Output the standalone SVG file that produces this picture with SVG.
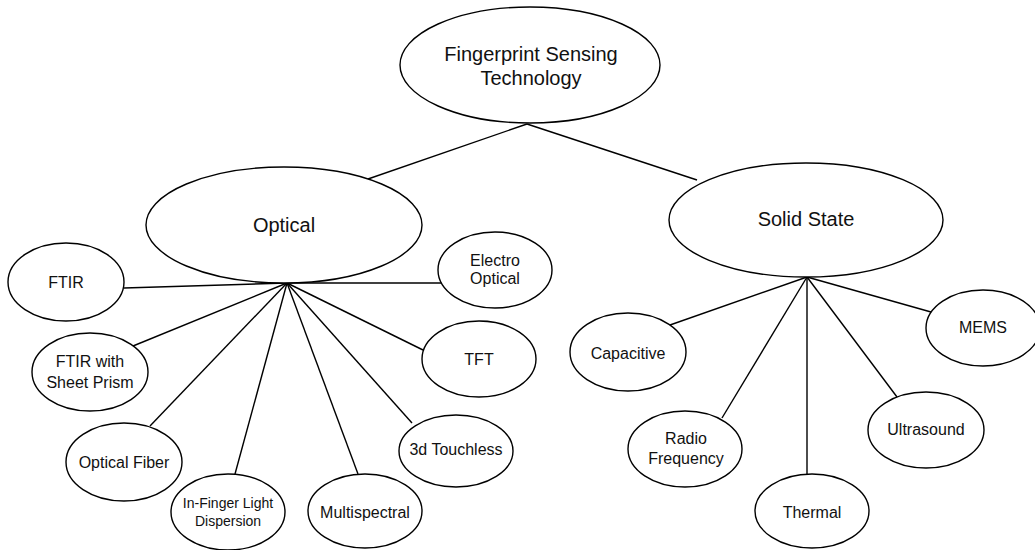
<svg xmlns="http://www.w3.org/2000/svg" width="1035" height="550" viewBox="0 0 1035 550">
<style>
.n ellipse{fill:#fff;stroke:#000;stroke-width:1.4}
.c line{stroke:#000;stroke-width:1.4}
text{font-family:"Liberation Sans",Arial,sans-serif;fill:#111;text-anchor:middle}
.big{font-size:20px}
.sm{font-size:16px}
.xs{font-size:14px}
</style>
<rect width="1035" height="550" fill="#fff"/>
<g id="connectors" class="c">
<line x1="527" y1="124" x2="368" y2="179"/>
<line x1="527" y1="124" x2="697" y2="180"/>
<line x1="287" y1="283" x2="124" y2="288"/>
<line x1="287" y1="283" x2="442" y2="283"/>
<line x1="287" y1="283" x2="133" y2="346"/>
<line x1="287" y1="283" x2="150" y2="426"/>
<line x1="287" y1="283" x2="235" y2="474"/>
<line x1="287" y1="283" x2="358" y2="474"/>
<line x1="287" y1="283" x2="412" y2="423"/>
<line x1="287" y1="283" x2="423" y2="350"/>
<line x1="807" y1="277" x2="670" y2="325"/>
<line x1="807" y1="277" x2="722" y2="418"/>
<line x1="807" y1="277" x2="807" y2="474"/>
<line x1="807" y1="277" x2="897" y2="397"/>
<line x1="807" y1="277" x2="931" y2="312"/>
</g>
<g id="fingerprint" class="n"><ellipse cx="530" cy="65" rx="130" ry="58"/><text class="big" x="531" y="61">Fingerprint Sensing</text><text class="big" x="531" y="85">Technology</text></g>
<g id="optical" class="n"><ellipse cx="284" cy="225" rx="138" ry="58"/><text class="big" x="284" y="232">Optical</text></g>
<g id="solidstate" class="n"><ellipse cx="806" cy="220" rx="137" ry="57"/><text class="big" x="806" y="226">Solid State</text></g>
<g id="ftir" class="n"><ellipse cx="66" cy="282" rx="58" ry="39"/><text class="sm" x="66" y="288">FTIR</text></g>
<g id="electro" class="n"><ellipse cx="495" cy="270" rx="57" ry="38"/><text class="sm" x="495" y="266">Electro</text><text class="sm" x="495" y="284">Optical</text></g>
<g id="ftirprism" class="n"><ellipse cx="90" cy="372" rx="58" ry="39"/><text class="sm" x="90" y="367">FTIR with</text><text class="sm" x="90" y="388">Sheet Prism</text></g>
<g id="tft" class="n"><ellipse cx="479" cy="359" rx="57" ry="38"/><text class="sm" x="479" y="365">TFT</text></g>
<g id="opticalfiber" class="n"><ellipse cx="124" cy="462" rx="58" ry="39"/><text class="sm" x="124" y="468">Optical Fiber</text></g>
<g id="touchless" class="n"><ellipse cx="456" cy="451" rx="57" ry="36"/><text class="sm" x="456" y="455">3d Touchless</text></g>
<g id="infinger" class="n"><ellipse cx="228" cy="512" rx="57" ry="38"/><text class="xs" x="228" y="508">In-Finger Light</text><text class="xs" x="228" y="526">Dispersion</text></g>
<g id="multispectral" class="n"><ellipse cx="365" cy="511" rx="57" ry="37"/><text class="sm" x="365" y="518">Multispectral</text></g>
<g id="capacitive" class="n"><ellipse cx="628" cy="352" rx="58" ry="39"/><text class="sm" x="628" y="359">Capacitive</text></g>
<g id="radio" class="n"><ellipse cx="685" cy="449" rx="57" ry="38"/><text class="sm" x="686" y="444">Radio</text><text class="sm" x="686" y="464">Frequency</text></g>
<g id="thermal" class="n"><ellipse cx="812" cy="511" rx="57" ry="37"/><text class="sm" x="812" y="518">Thermal</text></g>
<g id="ultrasound" class="n"><ellipse cx="926" cy="430" rx="58" ry="38"/><text class="sm" x="926" y="435">Ultrasound</text></g>
<g id="mems" class="n"><ellipse cx="983" cy="328" rx="57" ry="38"/><text class="sm" x="983" y="333">MEMS</text></g>
</svg>
